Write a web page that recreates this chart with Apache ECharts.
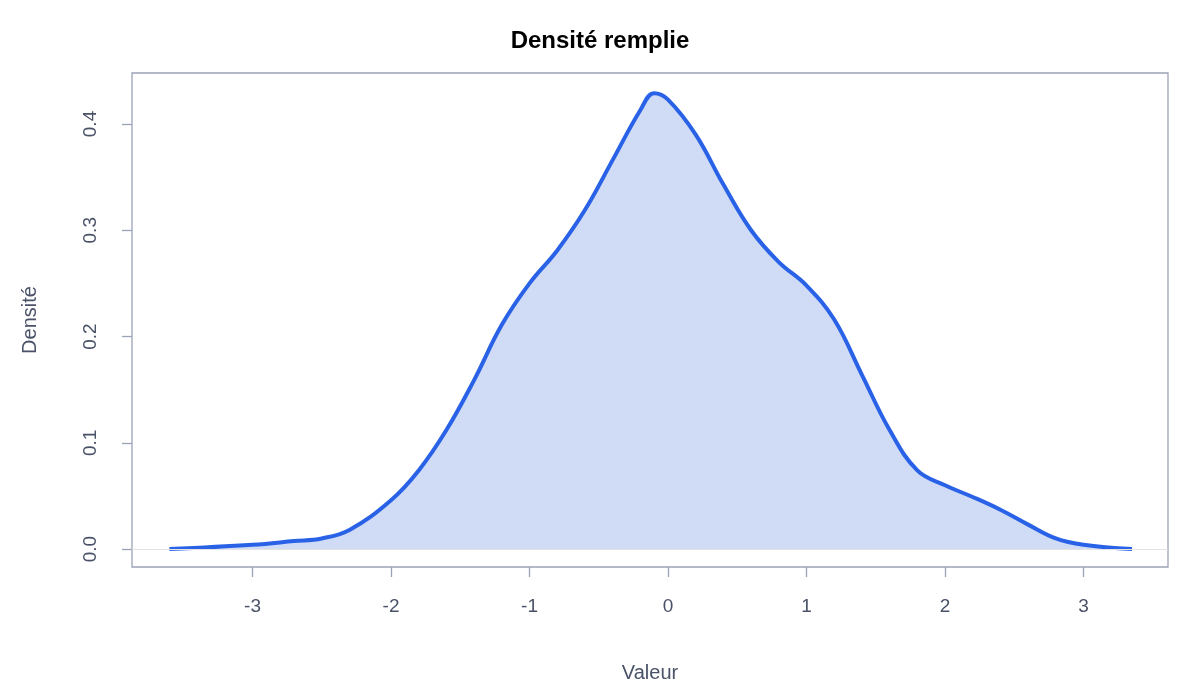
<!DOCTYPE html>
<html><head><meta charset="utf-8">
<script src="https://cdn.jsdelivr.net/npm/echarts@6/dist/echarts.min.js"></script>
<style>html,body{margin:0;padding:0;background:#fff}#c{width:1200px;height:700px}</style>
</head><body><div id="c"></div>
<script>
const xs = [-3.6,-3.0,-2.7,-2.5,-2.3,-2.0,-1.8,-1.6,-1.4,-1.2,-1.0,-0.8,-0.6,-0.4,-0.2,-0.1,0.0,0.2,0.4,0.6,0.8,1.0,1.2,1.4,1.6,1.8,2.0,2.2,2.4,2.6,2.8,3.0,3.35];
const ys = [0,0.004,0.0075,0.010,0.018,0.046,0.074,0.112,0.159,0.211,0.250,0.281,0.319,0.366,0.413,0.429,0.423,0.390,0.343,0.300,0.270,0.248,0.216,0.164,0.112,0.074,0.060,0.049,0.037,0.023,0.010,0.004,0];
const xTicks = [-3,-2,-1,0,1,2,3];
const yTicks = [0,0.1,0.2,0.3,0.4];
const chart = echarts.init(document.getElementById('c'));
const axisTxt = {color:'#4a5268', fontSize:19, fontFamily:'Liberation Sans, Arial'};
chart.setOption({
  animation:false,
  title:{text:'Densité remplie', left:'center', top:24, textStyle:{fontSize:24, fontWeight:'bold', color:'#000', fontFamily:'Liberation Sans, Arial'}},
  grid:{left:132, right:32, top:73, bottom:133, show:true, borderColor:'#9aa3b5', borderWidth:1.3},
  xAxis:{type:'value', min:-3.87, max:3.61,
    name:'Valeur', nameLocation:'middle', nameGap:96, nameTextStyle:{...axisTxt, fontSize:20},
    axisLine:{show:false, onZero:false}, splitLine:{show:false},
    axisTick:{show:true, customValues:xTicks, length:10, lineStyle:{color:'#9aa3b5', width:1.3}},
    axisLabel:{...axisTxt, customValues:xTicks, margin:30, formatter:v=>String(v)}},
  yAxis:{type:'value', min:-0.0169, max:0.448,
    name:'Densité', nameLocation:'middle', nameGap:92, nameTextStyle:{...axisTxt, fontSize:20},
    axisLine:{show:false, onZero:false}, splitLine:{show:false},
    axisTick:{show:true, customValues:yTicks, length:10, lineStyle:{color:'#9aa3b5', width:1.3}},
    axisLabel:{...axisTxt, customValues:yTicks, rotate:90, margin:32, formatter:v=>v.toFixed(1)}},
  series:[{type:'line', data:xs.map((x,i)=>[x,ys[i]]), smooth:0.4, showSymbol:false,
    lineStyle:{color:'#2962e6', width:4}, areaStyle:{color:'#d0dbf6', opacity:1},
    markLine:{silent:true, symbol:'none', label:{show:false}, lineStyle:{color:'#e3e3e3', type:'solid', width:1}, data:[{yAxis:0}]}}]
});
</script></body></html>
